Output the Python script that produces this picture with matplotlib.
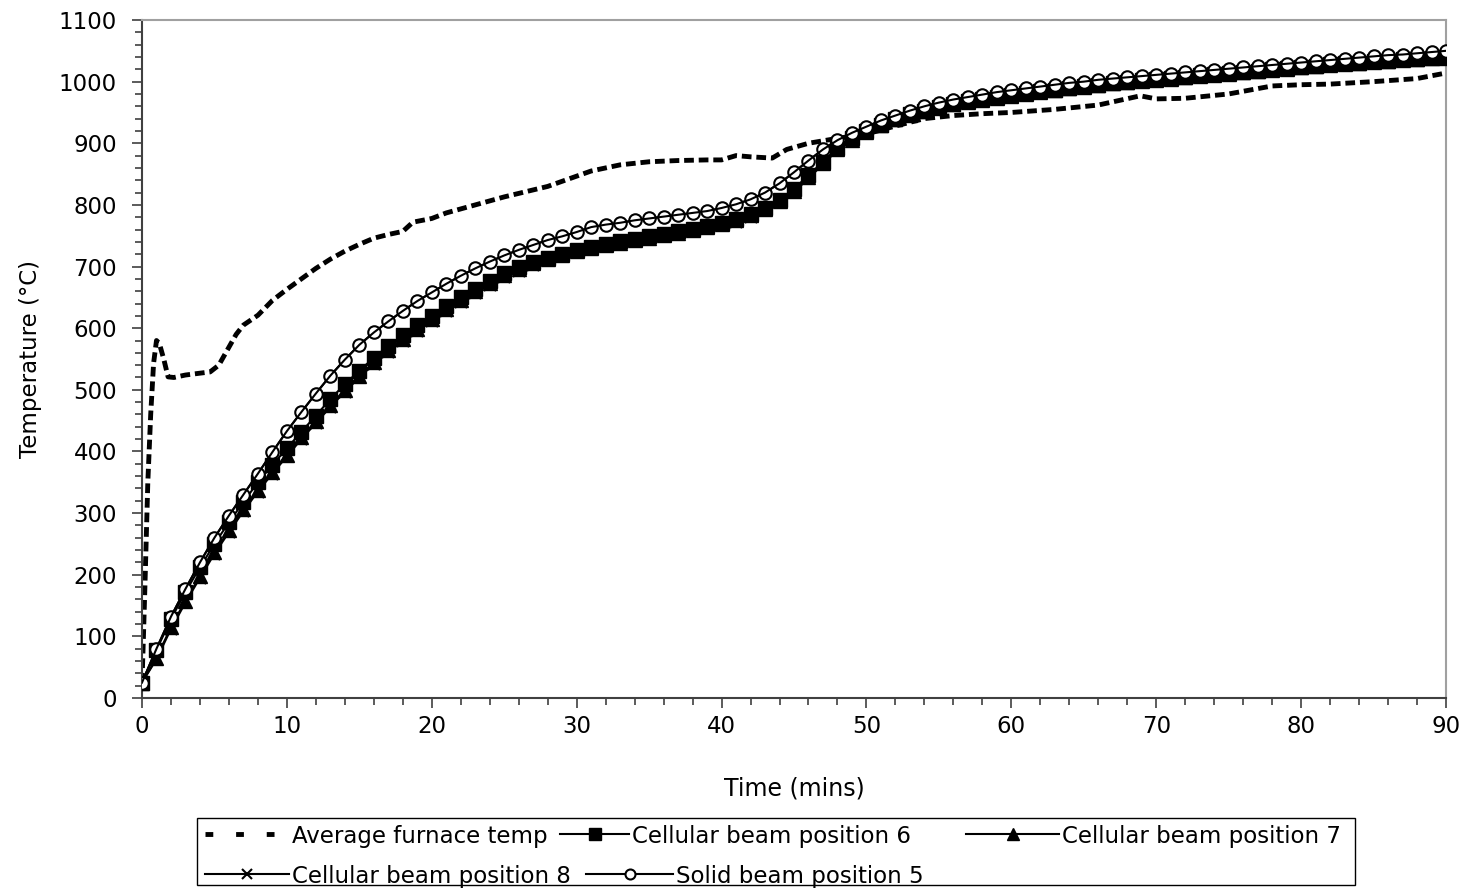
import numpy as np
import matplotlib
matplotlib.use("Agg")
import matplotlib.pyplot as plt
from matplotlib.ticker import MultipleLocator
from matplotlib.patches import Rectangle
from matplotlib.lines import Line2D

plt.rcParams['font.family'] = ['DejaVu Sans']

# --- data ---
time_min = list(range(0, 91))

furnace_t = [0, 0.1, 0.2, 0.4, 0.6, 0.8, 1.0, 1.2, 1.5, 1.8,
             2.2, 3, 4, 4.7, 5.3, 5.9, 6.5, 7, 8, 9,
             10, 11, 12, 13, 14, 15, 16, 17, 18, 18.7,
             20, 21, 23, 25, 28, 31, 33, 35, 37, 39,
             40, 41, 42, 43.5, 44.5, 46, 48, 50, 52, 54,
             56, 58, 60, 63, 66, 68.9, 70, 72, 75, 78,
             80, 82, 85, 88, 90]
furnace_T = [25, 100, 180, 349, 460, 543, 580, 575, 550, 521,
             520, 524, 527, 529, 540, 565, 590, 605, 621, 645,
             663, 680, 697, 712, 725, 736, 746, 752, 757, 772,
             778, 787, 800, 813, 830, 855, 865, 870, 872, 873,
             873, 880, 878, 876, 890, 900, 908, 915, 928, 940,
             945, 948, 950, 955, 962, 977, 972, 973, 980, 993,
             995, 996, 1000, 1005, 1014]

cell_pos6 = [25, 78, 128, 172, 212, 250, 285, 318, 350, 378, 405,
             432, 458, 485, 509, 531, 552, 571, 589, 605, 620,
             636, 650, 664, 677, 690, 699, 707, 714, 721, 727,
             732, 737, 741, 745, 749, 753, 757, 761, 766, 771,
             777, 785, 795, 808, 826, 848, 870, 893, 908, 920,
             930, 940, 947, 953, 959, 964, 968, 972, 975, 978,
             981, 984, 987, 990, 993, 995, 998, 1000, 1002, 1004,
             1006, 1008, 1010, 1012, 1014, 1016, 1018, 1020, 1022, 1024,
             1026, 1028, 1030, 1031, 1033, 1034, 1036, 1037, 1039, 1040]

cell_pos7 = [25, 65, 115, 158, 198, 237, 272, 306, 338, 367, 395,
             423, 449, 475, 500, 523, 545, 564, 582, 599, 615,
             631, 646, 660, 673, 686, 696, 705, 712, 719, 725,
             730, 735, 739, 743, 747, 751, 755, 759, 764, 769,
             775, 783, 793, 806, 823, 845, 868, 891, 906, 918,
             929, 939, 946, 952, 958, 963, 967, 971, 974, 977,
             980, 983, 986, 989, 992, 994, 997, 999, 1001, 1003,
             1005, 1007, 1009, 1011, 1013, 1015, 1017, 1019, 1021, 1023,
             1025, 1027, 1029, 1030, 1032, 1033, 1035, 1036, 1038, 1039]

cell_pos8 = [25, 63, 112, 155, 195, 234, 269, 303, 335, 364, 392,
             420, 446, 472, 497, 520, 542, 561, 579, 596, 612,
             628, 643, 657, 670, 683, 693, 702, 710, 717, 723,
             728, 733, 737, 741, 745, 749, 753, 757, 762, 767,
             773, 781, 791, 804, 821, 843, 866, 889, 905, 917,
             928, 938, 945, 951, 957, 962, 966, 970, 973, 976,
             979, 982, 985, 988, 991, 993, 996, 998, 1000, 1002,
             1004, 1006, 1008, 1010, 1012, 1014, 1016, 1018, 1020, 1022,
             1024, 1026, 1028, 1029, 1031, 1032, 1034, 1035, 1037, 1038]

solid_pos5 = [25, 80, 132, 177, 220, 260, 296, 330, 364, 399, 433,
              464, 494, 523, 549, 573, 593, 611, 628, 644, 658,
              672, 685, 697, 708, 718, 727, 735, 743, 749, 756,
              764, 768, 771, 775, 778, 781, 784, 787, 790, 795,
              801, 809, 820, 835, 853, 872, 890, 905, 917, 927,
              937, 945, 953, 960, 966, 971, 975, 979, 983, 986,
              989, 992, 995, 998, 1000, 1003, 1005, 1007, 1009, 1011,
              1013, 1015, 1017, 1019, 1021, 1023, 1025, 1027, 1029, 1031,
              1033, 1035, 1037, 1039, 1041, 1043, 1044, 1046, 1048, 1050]

W, H = 1468, 896

# --- plot ---
fig = plt.figure(figsize=(W/100, H/100), dpi=100)
ax = fig.add_axes([142/W, 1 - 698/H, (1446-142)/W, (698-20)/H])

ax.plot(furnace_t, furnace_T, color='black', lw=3.5,
        linestyle=(0, (2, 1)), dash_capstyle='butt', zorder=2)
h6, = ax.plot(time_min, cell_pos6, '-s', color='black', lw=1.5, ms=10.5,
              label='Cellular beam position 6', zorder=3)
h7, = ax.plot(time_min, cell_pos7, '-^', color='black', lw=1.5, ms=10,
              label='Cellular beam position 7', zorder=3)
h8, = ax.plot(time_min, cell_pos8, '-x', color='black', lw=1.5, ms=9,
              mew=1.5, label='Cellular beam position 8', zorder=3)
h5, = ax.plot(time_min, solid_pos5, '-o', color='black', lw=1.5, ms=9,
              mfc='white', mew=1.5, label='Solid beam position 5', zorder=4)
ax.plot(time_min, solid_pos5, '-', color='black', lw=1.5, zorder=5)

# legend key for the furnace line (drawn as spaced square dashes)
h_furn = Line2D([], [], color='black', lw=3.5, linestyle=(0, (1.6, 4.7)),
                dash_capstyle='butt', label='Average furnace temp')

ax.set_xlim(0, 90)
ax.set_ylim(0, 1100)
ax.xaxis.set_major_locator(MultipleLocator(10))
ax.xaxis.set_minor_locator(MultipleLocator(2))
ax.yaxis.set_major_locator(MultipleLocator(100))
ax.yaxis.set_minor_locator(MultipleLocator(20))
ax.tick_params(which='major', direction='out', length=7, width=1.2,
               color='#404040', labelsize=16.5)
ax.tick_params(axis='y', which='major', pad=11)
ax.tick_params(axis='x', which='major', pad=5)
ax.tick_params(which='minor', direction='out', length=5, width=1.2,
               color='#404040')
for s in ['left', 'bottom']:
    ax.spines[s].set_color('#404040')
    ax.spines[s].set_linewidth(1.5)
for s in ['top', 'right']:
    ax.spines[s].set_color('#a0a0a0')
    ax.spines[s].set_linewidth(1.5)

ax.set_xlabel('Time (mins)', fontsize=17, labelpad=28)
ax.set_ylabel('Temperature (°C)', fontsize=16.5, labelpad=12)

# legend entries placed like the original's flowing legend
leg_fs = 16.5
em = leg_fs * 100 / 72
pad = 0.12
entries = [  # handle, handle start px, text start px, row centre px
    (h_furn, 205, 292, 836),
    (h6, 560, 632, 836),
    (h7, 966, 1062, 836),
    (h8, 205, 292, 876),
    (h5, 586, 676, 876),
]
for h, hx, tx, yc in entries:
    hl = (tx - hx) / em - pad
    fig.legend([h], [h.get_label()], loc='center left',
               bbox_to_anchor=(hx / W, 1 - yc / H), fontsize=leg_fs,
               frameon=False, handlelength=hl, handletextpad=pad,
               borderpad=0, borderaxespad=0, markerscale=0.8)

fig.patches.append(Rectangle((197/W, 1 - 885/H), (1355-197)/W, (885-818)/H,
                             transform=fig.transFigure, fill=False,
                             edgecolor='black', lw=1.0))

fig.savefig('out.png', dpi=100)
